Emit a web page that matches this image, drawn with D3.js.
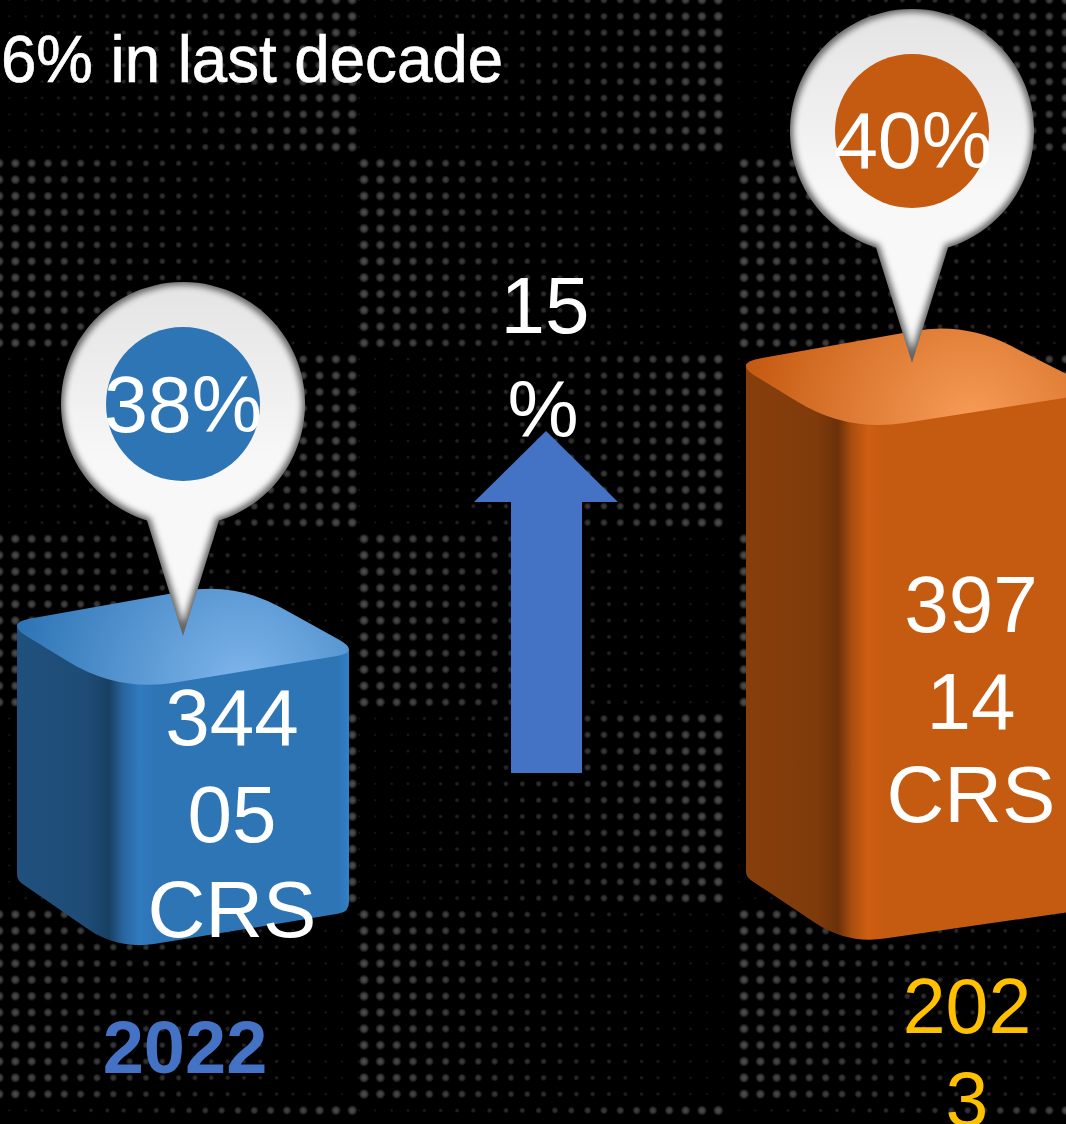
<!DOCTYPE html>
<html><head><meta charset="utf-8">
<script src="https://cdn.jsdelivr.net/npm/d3@7/dist/d3.min.js"></script>
<style>html,body{margin:0;padding:0;background:#000;overflow:hidden}svg{display:block}text{font-family:"Liberation Sans",Arial,sans-serif}</style>
</head><body><script>
const years = ["2022","2023"];
const valueLabels = [["344","05","CRS"],["397","14","CRS"]];
const values = [34405,39714];
const shares = ["38%","40%"];
const barColors = ["#2e75b6","#c55a11"];
const barLights = ["#80b6ec","#f89d58"];
const yearColors = ["#4472c4","#ffc000"];
const growthLabel = ["15","%"];
const headline = "6% in last decade";
// backdrop bands of the dot texture: first row y, last row y, kind (fade out "A" / fade in "B")
const dotBands = [[0,155,"B"],[155,351,"A"],[351,530,"B"],[530,709,"A"],[709,905,"B"],[905,1101,"A"],[1101,1124,"B"]];
const dotOrigins = {A:[-1,364,744],B:[-7,359,739]};

const W=1066,H=1124;
const svg=d3.select("body").append("svg").attr("width",W).attr("height",H);
const defs=svg.append("defs");
svg.append("rect").attr("width",W).attr("height",H).attr("fill","#000");

const dg=defs.append("radialGradient").attr("id","dot");
dg.append("stop").attr("offset",0).attr("stop-color","#fff").attr("stop-opacity",1);
dg.append("stop").attr("offset",.5).attr("stop-color","#fff").attr("stop-opacity",.75);
dg.append("stop").attr("offset",1).attr("stop-color","#fff").attr("stop-opacity",0);

const pitch=16.33;
const bg=svg.append("g");
const rampR=d3.scaleLinear().domain([0,1]).range([1.4,5.4]);
const rampO=d3.scaleLinear().domain([0,1]).range([.08,.32]);
dotBands.forEach(([y0,y1,kind])=>{
  d3.range(Math.ceil(y0/pitch),Math.ceil(y1/pitch)).forEach(j=>{
    dotOrigins[kind].forEach(ox=>{
      d3.range(23).forEach(k=>{
        const cx=ox+k*pitch, t=kind==="A"?1-k/22:k/22;
        if(cx>W+6) return;
        bg.append("circle").attr("cx",cx).attr("cy",j*pitch)
          .attr("r",rampR(t)).attr("fill","url(#dot)").attr("opacity",rampO(t));
      });
    });
  });
});

const x=d3.scalePoint().domain(years).range([183,912]);
const y=d3.scaleLinear().domain([34405,39714]).range([625,365]);

function roundPoly(pts){
  let d="";const n=pts.length;
  for(let i=0;i<n;i++){
    const p=pts[i],a=pts[(i-1+n)%n],b=pts[(i+1)%n],rr=p[2];
    const la=Math.hypot(a[0]-p[0],a[1]-p[1]),lb=Math.hypot(b[0]-p[0],b[1]-p[1]);
    const s=[p[0]+(a[0]-p[0])*rr/la,p[1]+(a[1]-p[1])*rr/la];
    const e=[p[0]+(b[0]-p[0])*rr/lb,p[1]+(b[1]-p[1])*rr/lb];
    d+=(i?"L":"M")+s+"Q"+p[0]+","+p[1]+" "+e;
  }
  return d+"Z";
}

const f=defs.append("filter").attr("id","inset").attr("x","-10%").attr("y","-10%").attr("width","120%").attr("height","120%");
f.append("feMorphology").attr("in","SourceGraphic").attr("operator","erode").attr("radius",3).attr("result","e");
f.append("feGaussianBlur").attr("in","e").attr("stdDeviation",3).attr("result","b");
f.append("feComposite").attr("in","b").attr("in2","SourceAlpha").attr("operator","in");
const pg=defs.append("linearGradient").attr("id","pinFill").attr("x1",0).attr("y1",0).attr("x2",0).attr("y2",1);
pg.append("stop").attr("offset",0).attr("stop-color","#e4e4e4");
pg.append("stop").attr("offset",.5).attr("stop-color","#f8f8f8");
pg.append("stop").attr("offset",1).attr("stop-color","#f8f8f8");

const bars=svg.selectAll("g.bar").data(years).join("g").attr("class","bar");
bars.each(function(yr,i){
  const g=d3.select(this),cx=x(yr),top=y(values[i]),base=d3.color(barColors[i]);
  const rx=i?178:166;
  const L=cx-166,R=cx+rx,F=cx-65,B=cx+52;
  const id="b"+i,w=R-L;
  const lg=defs.append("linearGradient").attr("id",id+"side").attr("gradientUnits","userSpaceOnUse").attr("x1",L).attr("x2",R).attr("y1",0).attr("y2",0);
  [[0,base.darker(1.05)],[70/w,base.darker(1.2)],[92/w,base.darker(1.7)],[106/w,base.darker(.4)],[122/w,base.brighter(.12)],[138/w,base],[(w-10)/w,base],[1,base.brighter(.25)]]
    .forEach(s=>lg.append("stop").attr("offset",s[0]).attr("stop-color",s[1]));
  const tg=defs.append("radialGradient").attr("id",id+"top").attr("gradientUnits","userSpaceOnUse")
    .attr("cx",cx+60).attr("cy",top+62).attr("r",230);
  [[0,barLights[i]],[.5,d3.interpolateRgb(barColors[i],barLights[i])(.5)],[1,base]].forEach(s=>tg.append("stop").attr("offset",s[0]).attr("stop-color",s[1]));
  const bl=i?877:880, bf=i?944:950, br=i?909:912;
  g.append("path").attr("d",roundPoly([[L,top+2,1],[L,bl,6],[F,bf,38],[R,br,10],[R,top+24,1]])).attr("fill",`url(#${id}side)`);
  g.append("path").attr("d",roundPoly([[L-12,top-2,26],[B,top-43,52],[R+12,top+27,26],[F,top+67,58]])).attr("fill",`url(#${id}top)`);
});

// growth arrow
svg.append("path").attr("fill","#4472c4")
  .attr("d",d3.line()([[546,431],[618,502],[582,502],[582,773],[511,773],[511,502],[474,502]])+"Z");

// pins
const pins=svg.selectAll("g.pin").data(years).join("g").attr("class","pin");
pins.each(function(yr,i){
  const g=d3.select(this),cx=x(yr),cy=i?131:404,r=122,tip=cy+232;
  const t=Math.asin(36/r), yb=cy+r*Math.cos(t);
  const d=`M${cx-36},${yb}A${r},${r} 0 1 1 ${cx+36},${yb}L${cx},${tip}Z`;
  g.append("path").attr("d",d).attr("fill","#666");
  g.append("path").attr("d",d).attr("fill","url(#pinFill)").attr("filter","url(#inset)");
  g.append("circle").attr("cx",cx).attr("cy",cy).attr("r",77).attr("fill",barColors[i]);
  g.append("text").attr("x",i?cx+1:cx).attr("y",cy+(i?37:28)).attr("text-anchor","middle").attr("font-size",79).attr("fill","#fff").text(shares[i]);
});

const txt=(t,xx,yy,size,fill,extra={})=>{const e=svg.append("text").attr("x",xx).attr("y",yy).attr("text-anchor","middle").attr("font-size",size).attr("fill",fill).text(t);
  Object.entries(extra).forEach(([k,v])=>e.attr(k,v));return e;};

txt(headline,1,82,66,"#fff",{"text-anchor":"start","textLength":502,"lengthAdjust":"spacingAndGlyphs","stroke":"#fff","stroke-width":.7});
const valueX=[232,971], valueY=[[745,842,937],[632,729,822]];
valueLabels.forEach((ls,i)=>ls.forEach((l,k)=>txt(l,valueX[i],valueY[i][k],80,"#fff")));
txt(growthLabel[0],545,333,80,"#fff");
txt(growthLabel[1],543,437,80,"#fff");
txt(years[0],185,1073,74,yearColors[0],{"font-weight":"bold"});
txt(years[1].slice(0,3),967,1033,77,yearColors[1]);
txt(years[1].slice(3),967,1126,77,yearColors[1]);
</script></body></html>
